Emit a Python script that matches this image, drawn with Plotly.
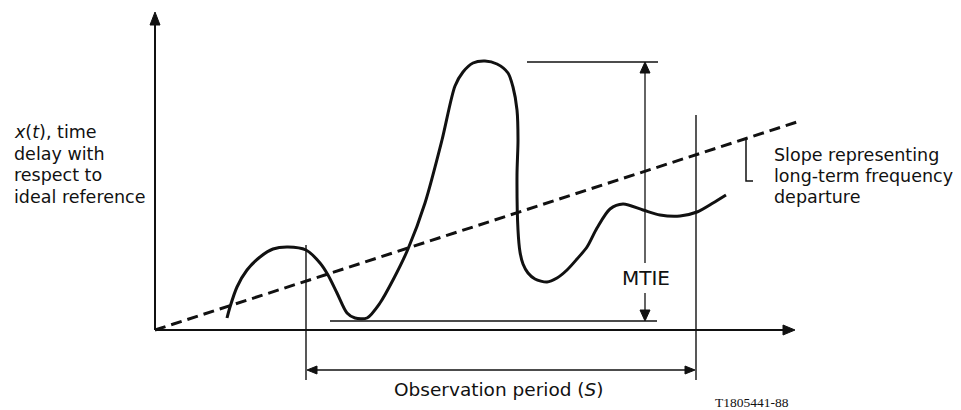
import plotly.graph_objects as go

# ---- data (t = time from origin, v = x(t) time delay), one unit = one pixel ----
curve_t = [72, 75, 82, 92, 105, 118, 133, 151, 165, 173, 182, 192, 200, 212, 225, 238,
           253, 270, 287, 300, 308, 318, 330, 342, 353, 358, 362, 363, 362, 363, 365,
           368, 373, 380, 392, 402, 412, 422, 432, 442, 455, 468, 488, 505, 525,
           542, 558, 571]
curve_v = [12, 23, 43, 60, 73, 81, 83, 80, 67, 55, 37, 17, 12, 12, 27, 50,
           81, 127, 190, 244, 258, 267, 269, 266, 257, 243, 220, 190, 155, 100, 78,
           66, 57, 51, 48, 52, 60, 71, 83, 102, 121, 126, 120, 115, 114,
           118, 127, 135]

slope_t = [0, 642]          # long-term frequency departure (dashed)
slope_v = [0, 208]

obs_start, obs_end = 151, 541   # observation period S
mtie_max, mtie_min = 268, 9     # extreme values of x(t) within S
mtie_t = 490

axis_t_end, axis_v_end = 640, 318

left_label = ["<i>x</i>(<i>t</i>), time", "delay with", "respect to", "ideal reference"]
right_label = ["Slope representing", "long-term frequency", "departure"]

FONT = "DejaVu Sans"
BLACK = "#111"

fig = go.Figure()

def line(xs, ys, w=1.3, dash=None, color=BLACK):
    fig.add_trace(go.Scatter(x=xs, y=ys, mode="lines",
                             line=dict(color=color, width=w, dash=dash),
                             hoverinfo="skip", showlegend=False))

def tri(tip, direction, length=12, half=5):
    tx, ty = tip
    if direction == "up":
        xs = [tx, tx - half, tx + half, tx]; ys = [ty, ty - length, ty - length, ty]
    elif direction == "down":
        xs = [tx, tx - half, tx + half, tx]; ys = [ty, ty + length, ty + length, ty]
    elif direction == "right":
        xs = [tx, tx - length, tx - length, tx]; ys = [ty, ty - half, ty + half, ty]
    else:
        xs = [tx, tx + length, tx + length, tx]; ys = [ty, ty - half, ty + half, ty]
    fig.add_trace(go.Scatter(x=xs, y=ys, mode="lines", fill="toself",
                             fillcolor=BLACK, line=dict(color=BLACK, width=1),
                             hoverinfo="skip", showlegend=False))

# axes
line([0, 0], [0, axis_v_end - 4], w=2)
tri((0, axis_v_end), "up", length=13, half=5)
line([0, axis_t_end - 4], [0, 0], w=2)
tri((axis_t_end, 0), "right", length=12, half=5)

# slope (dashed)
line(slope_t, slope_v, w=3, dash="11px,6px")

# observation period verticals and arrow
line([obs_start, obs_start], [-50, 85], w=1.4)
line([obs_end, obs_end], [-50, 215], w=1.4)
line([obs_start + 4, obs_end - 4], [-40, -40], w=1.4)
tri((obs_start + 1, -40), "left", length=10, half=4)
tri((obs_end - 1, -40), "right", length=10, half=4)

# MTIE lines and arrows
line([372, 503], [mtie_max, mtie_max], w=1.6)
line([175, 502], [mtie_min, mtie_min], w=1.6)
line([mtie_t, mtie_t], [mtie_max - 8, 67], w=1.3)
line([mtie_t, mtie_t], [37, mtie_min + 8], w=1.3)
tri((mtie_t, mtie_max), "up", length=11, half=5)
tri((mtie_t, mtie_min), "down", length=11, half=5)

# bracket to the slope label
line([591, 591, 598], [192, 149, 149], w=1.5)

# x(t) curve
fig.add_trace(go.Scatter(x=curve_t, y=curve_v, mode="lines",
                         line=dict(color=BLACK, width=3, shape="spline", smoothing=0.8),
                         hoverinfo="skip", showlegend=False))

# text
for i, s in enumerate(left_label):
    fig.add_annotation(x=-143, y=198 - 21.5 * i, text=s, showarrow=False,
                       xanchor="left", yanchor="middle",
                       font=dict(family=FONT, size=17.5, color=BLACK))
for i, s in enumerate(right_label):
    fig.add_annotation(x=617, y=175 - 21 * i, text=s, showarrow=False,
                       xanchor="left", yanchor="middle",
                       font=dict(family=FONT, size=17.5, color=BLACK))
fig.add_annotation(x=(obs_start + obs_end) / 2 - 2, y=-59, text="Observation period (<i>S</i>)",
                   showarrow=False, xanchor="center", yanchor="middle",
                   font=dict(family=FONT, size=18.5, color=BLACK))
fig.add_annotation(x=mtie_t + 1, y=52, text="MTIE", showarrow=False,
                   xanchor="center", yanchor="middle",
                   font=dict(family=FONT, size=20, color=BLACK))
fig.add_annotation(x=597, y=-72, text="T1805441-88", showarrow=False,
                   xanchor="center", yanchor="middle",
                   font=dict(family="Liberation Serif", size=13.5, color=BLACK))

# the page body has an 8px margin: shift the ranges so the drawing lands in place
fig.update_layout(
    width=961, height=410, margin=dict(l=0, r=0, t=0, b=0),
    paper_bgcolor="white", plot_bgcolor="white",
    xaxis=dict(range=[-147, 814], visible=False, fixedrange=True),
    yaxis=dict(range=[-88, 322], visible=False, fixedrange=True),
    showlegend=False,
)
fig.write_html("out.html")
